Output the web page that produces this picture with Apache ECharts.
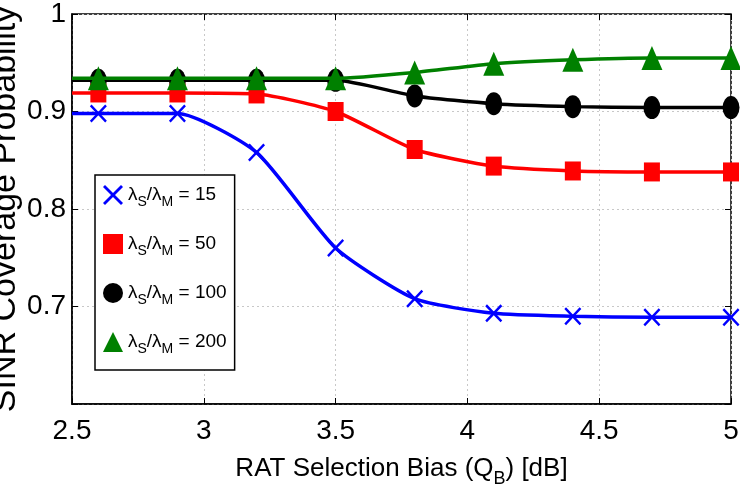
<!DOCTYPE html>
<html>
<head>
<meta charset="utf-8">
<script src="https://cdn.jsdelivr.net/npm/echarts@6/dist/echarts.min.js"></script>
<style>
html, body { margin: 0; padding: 0; background: #fff; }
#chart { width: 740px; height: 489px; }
</style>
</head>
<body>
<div id="chart"></div>
<script>
// bias values, the first one (2.5) only starts the line, it has no marker
var biasValues = [2.5, 2.6, 2.9, 3.2, 3.5, 3.8, 4.1, 4.4, 4.7, 5.0];
var ratio15 = [0.898, 0.898, 0.898, 0.858, 0.760, 0.708, 0.693, 0.690, 0.689, 0.689];
var ratio50 = [0.919, 0.919, 0.919, 0.918, 0.900, 0.861, 0.844, 0.839, 0.838, 0.838];
var ratio100 = [0.932, 0.932, 0.932, 0.932, 0.932, 0.916, 0.908, 0.905, 0.904, 0.904];
var ratio200 = [0.934, 0.934, 0.934, 0.934, 0.934, 0.940, 0.949, 0.953, 0.955, 0.955];
var ratioLabels = ['15', '50', '100', '200'];

var crossPath = 'path://M0,2L2,0L10,8L18,0L20,2L12,10L20,18L18,20L10,12L2,20L0,18L8,10Z';
var fontName = '"Liberation Sans", Arial, sans-serif';

function pairs(values) {
	return biasValues.map(function (x, i) {
		var item = { value: [x, values[i]] };
		if (i === 0) {
			item.symbolSize = 0;
		}
		return item;
	});
}

function seriesName(i) {
	return 'λS/λM = ' + ratioLabels[i];
}

var myChart = echarts.init(document.getElementById('chart'));
var option = {
	animation: false,
	textStyle: {
		fontFamily: fontName
	},
	grid: {
		left: 72,
		right: 9,
		top: 14,
		bottom: 85,
		outerBoundsMode: 'none',
		containLabel: false,
		show: true,
		borderColor: '#000',
		borderWidth: 1.5
	},
	legend: {
		orient: 'vertical',
		left: 95,
		top: 175,
		itemWidth: 20,
		itemHeight: 20,
		itemGap: 25,
		padding: [10, 8, 14, 8],
		borderColor: '#000',
		borderWidth: 1.5,
		backgroundColor: '#fff',
		data: [
			{ name: seriesName(0), icon: crossPath },
			{ name: seriesName(1), icon: 'rect' },
			{ name: seriesName(2), icon: 'circle' },
			{ name: seriesName(3), icon: 'triangle' }
		],
		formatter: function (name) {
			var num = name.split('= ')[1];
			return '{a|λ}{s|S}{a|/λ}{s|M}{a| = ' + num + '}';
		},
		textStyle: {
			rich: {
				a: { fontSize: 19, color: '#000', fontFamily: fontName },
				s: { fontSize: 14, color: '#000', fontFamily: fontName, padding: [14, 0, 0, 0] }
			}
		}
	},
	xAxis: [{
		type: 'value',
		min: 2.5,
		max: 5,
		interval: 0.5,
		name: '{a|RAT Selection Bias (Q}{s|B}{a|) [dB]}',
		nameLocation: 'middle',
		nameGap: 46,
		nameTextStyle: {
			rich: {
				a: { fontSize: 26, color: '#000', fontFamily: fontName },
				s: { fontSize: 18, color: '#000', fontFamily: fontName, padding: [20, 0, 0, 0] }
			}
		},
		axisLine: { lineStyle: { color: '#000', width: 1.5 } },
		axisTick: { inside: true, length: 6, lineStyle: { color: '#000' } },
		axisLabel: { color: '#000', fontSize: 28, margin: 13 },
		splitLine: { show: true, lineStyle: { color: '#c8c8c8', type: [2, 3], width: 1 } }
	}, {
		type: 'value',
		position: 'top',
		min: 2.5,
		max: 5,
		interval: 0.5,
		axisLine: { show: false },
		axisTick: { inside: true, length: 6, lineStyle: { color: '#000' } },
		axisLabel: { show: false },
		splitLine: { show: false }
	}],
	yAxis: [{
		type: 'value',
		min: 0.6,
		max: 1,
		interval: 0.1,
		name: 'SINR Coverage Probability',
		nameLocation: 'middle',
		nameGap: 49,
		nameMoveOverlap: false,
		nameTextStyle: { fontSize: 34, color: '#000' },
		axisLine: { show: true, lineStyle: { color: '#000', width: 1.5 } },
		axisTick: { show: true, inside: true, length: 6, lineStyle: { color: '#000' } },
		axisLabel: {
			color: '#000',
			fontSize: 28,
			margin: 6,
			formatter: function (v) {
				if (Math.abs(v - 0.6) < 1e-6) return '';
				return String(Math.round(v * 10) / 10);
			}
		},
		splitLine: { show: true, lineStyle: { color: '#c8c8c8', type: [2, 3], width: 1 } }
	}, {
		type: 'value',
		position: 'right',
		min: 0.6,
		max: 1,
		interval: 0.1,
		axisLine: { show: false },
		axisTick: { show: true, inside: true, length: 6, lineStyle: { color: '#000' } },
		axisLabel: { show: false },
		splitLine: { show: false }
	}],
	series: [
		{
			name: seriesName(0),
			type: 'line',
			smooth: 0.2,
			data: pairs(ratio15),
			symbol: crossPath,
			symbolSize: [17, 18],
			color: '#0000ff',
			lineStyle: { color: '#0000ff', width: 3.5 },
			z: 5
		},
		{
			name: seriesName(1),
			type: 'line',
			smooth: 0.2,
			data: pairs(ratio50),
			symbol: 'rect',
			symbolSize: [16, 19],
			color: '#ff0000',
			lineStyle: { color: '#ff0000', width: 3.5 },
			z: 4
		},
		{
			name: seriesName(2),
			type: 'line',
			smooth: 0.2,
			data: pairs(ratio100),
			symbol: 'circle',
			symbolSize: [17, 23],
			color: '#000000',
			lineStyle: { color: '#000000', width: 3.5 },
			z: 3
		},
		{
			name: seriesName(3),
			type: 'line',
			smooth: 0.2,
			data: pairs(ratio200),
			symbol: 'triangle',
			symbolSize: [21, 24],
			color: '#008000',
			lineStyle: { color: '#008000', width: 3.5 },
			z: 6
		}
	]
};
myChart.setOption(option);
</script>
</body>
</html>
